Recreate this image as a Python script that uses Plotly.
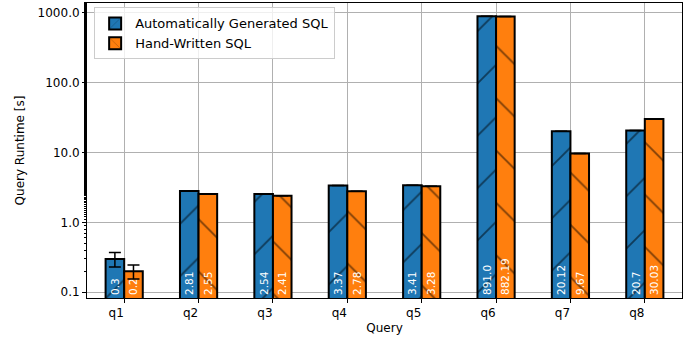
import plotly.graph_objects as go

queries = ["q1", "q2", "q3", "q4", "q5", "q6", "q7", "q8"]
auto_sql = [0.3, 2.81, 2.54, 3.37, 3.41, 891.0, 20.12, 20.7]
hand_sql = [0.2, 2.55, 2.41, 2.78, 3.28, 882.19, 9.67, 30.03]
auto_err = [0.07, 0, 0, 0, 0, 0, 0, 0]
hand_err = [0.045, 0, 0, 0, 0, 0, 0, 0]
y_ticks = [0.1, 1, 10, 100, 1000]
y_tick_labels = ["0.1", "1.0", "10.0", "100.0", "1000.0"]

FONT = "DejaVu Sans"

def bar(name, vals, errs, color, shape):
    return go.Bar(
        name=name, x=queries, y=vals,
        text=[str(v) for v in vals],
        textposition="inside", insidetextanchor="start", textangle=-90,
        textfont=dict(color="white", size=10.5, family=FONT),
        constraintext="none",
        marker=dict(color=color, line=dict(color="black", width=2),
                    pattern=dict(shape=shape, fgcolor="black", size=37,
                                 solidity=0.05, fillmode="overlay")),
        error_y=dict(type="data", array=errs, color="black", thickness=1.5, width=6),
    )

fig = go.Figure([
    bar("Automatically Generated SQL", auto_sql, auto_err, "#1f77b4", "/"),
    bar("Hand-Written SQL", hand_sql, hand_err, "#ff7f0e", "\\"),
])

fig.update_layout(
    width=694, height=338,
    margin=dict(l=87, r=12, t=3, b=40),
    paper_bgcolor="white", plot_bgcolor="white",
    font=dict(family=FONT, size=12, color="black"),
    barmode="group", bargap=0.5, bargroupgap=0,
    legend=dict(x=0.012, y=0.985, xanchor="left", yanchor="top",
                bgcolor="rgba(255,255,255,0.8)", bordercolor="#cccccc",
                borderwidth=1, font=dict(size=13)),
    showlegend=True,
)
fig.update_xaxes(
    range=[-0.5, 7.5], showgrid=True, gridcolor="#b0b0b0", gridwidth=0.8,
    showline=True, mirror=True, linecolor="black", linewidth=1,
    ticks="outside", ticklen=4, tickcolor="black", ticklabelshift=-8,
    tickfont=dict(size=12),
    title=dict(text="Query", standoff=4, font=dict(size=12)), zeroline=False,
)
fig.update_yaxes(
    type="log", range=[-1.082, 3.139],
    tickvals=y_ticks, ticktext=y_tick_labels, tickfont=dict(size=12),
    showgrid=True, gridcolor="#b0b0b0", gridwidth=0.8,
    showline=True, mirror=True, linecolor="black", linewidth=1,
    ticks="outside", ticklen=4, tickcolor="black",
    minor=dict(ticks="outside", ticklen=2, tickcolor="black", showgrid=False),
    title=dict(text="Query Runtime [s]", standoff=10, font=dict(size=12)), zeroline=False,
)

fig.write_html("out.html")
